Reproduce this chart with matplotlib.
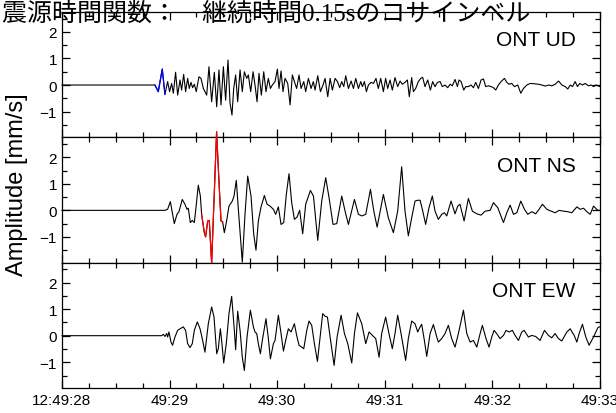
import matplotlib
matplotlib.use("Agg")
import matplotlib.pyplot as plt
import numpy as np

plt.rcParams['font.family'] = ['Liberation Sans', 'DejaVu Sans']

# time in seconds after 12:49:28, amplitude in mm/s
tick_pos = [0, 1, 2, 3, 4, 5]
tick_lab = ['12:49:28', '49:29', '49:30', '49:31', '49:32', '49:33']

ud_t = [0.0, 0.864, 0.895, 0.932, 0.957, 0.982, 1.000, 1.019, 1.035, 1.056, 1.075, 1.097, 1.112,
        1.131, 1.149, 1.168, 1.183, 1.199, 1.214, 1.230, 1.248, 1.273, 1.292, 1.314, 1.345,
        1.366, 1.391, 1.416, 1.438, 1.459, 1.478, 1.500, 1.521, 1.543, 1.562, 1.580, 1.596,
        1.614, 1.633, 1.655, 1.676, 1.695, 1.717, 1.732, 1.754, 1.776, 1.794, 1.813, 1.831,
        1.853, 1.875, 1.896, 1.918, 1.937, 1.955, 1.980, 2.002, 2.017, 2.036, 2.054, 2.073,
        2.098, 2.120, 2.141, 2.160, 2.181, 2.203, 2.222, 2.247, 2.265, 2.290, 2.315, 2.336,
        2.352, 2.377, 2.402, 2.426, 2.445, 2.470, 2.492, 2.513, 2.538, 2.560, 2.581, 2.600,
        2.619, 2.637, 2.662, 2.687, 2.709, 2.730, 2.755, 2.777, 2.792, 2.811, 2.829, 2.848,
        2.873, 2.895, 2.918, 2.940, 2.962, 2.987, 3.008, 3.027, 3.049, 3.070, 3.095, 3.120,
        3.142, 3.163, 3.188, 3.210, 3.228, 3.250, 3.266, 3.287, 3.312, 3.334, 3.352, 3.374,
        3.399, 3.424, 3.445, 3.467, 3.489, 3.514, 3.535, 3.560, 3.585, 3.607, 3.628, 3.653,
        3.675, 3.690, 3.709, 3.734, 3.752, 3.777, 3.802, 3.824, 3.845, 3.870, 3.895, 3.917,
        3.938, 3.963, 3.988, 4.010, 4.031, 4.056, 4.081, 4.112, 4.134, 4.155, 4.180, 4.205,
        4.236, 4.264, 4.289, 4.320, 4.351, 4.382, 4.429, 4.460, 4.491, 4.522, 4.553, 4.584,
        4.615, 4.646, 4.677, 4.701, 4.723, 4.745, 4.769, 4.791, 4.812, 4.837, 4.862, 4.893,
        4.918, 4.940, 4.961, 5.0]
ud_v = [0.0, 0.0, -0.25, 0.60, -0.35, 0.13, -0.25, 0.06, -0.31, 0.48, -0.38, 0.19, -0.19,
        0.40, -0.25, 0.25, -0.13, 0.10, -0.10, 0.03, -0.25, 0.31, 0.25, -0.13, -0.38,
        0.69, -0.63, 0.48, -0.82, 0.57, -0.75, 0.69, -0.57, 0.94, -0.69, -1.13, -0.13,
        0.38, -0.63, 0.57, -0.25, 0.50, 0.25, 0.38, -0.25, 0.50, 0.0, -0.63, 0.44,
        -0.38, 0.50, -0.25, 0.25, -0.13, 0.0, 0.13, 0.60, -0.13, 0.53, -0.25, 0.25,
        0.06, -0.75, 0.38, 0.13, -0.13, 0.38, -0.13, 0.13, -0.25, 0.25, -0.13, 0.13,
        -0.19, 0.35, -0.25, 0.0, 0.25, -0.44, 0.25, -0.19, 0.25, 0.13, -0.10, 0.13,
        -0.06, 0.35, -0.13, 0.15, -0.13, 0.25, -0.13, 0.13, -0.06, 0.13, -0.25, 0.0,
        0.10, 0.06, 0.25, -0.13, 0.25, -0.25, 0.25, -0.13, 0.19, -0.19, 0.28, -0.06,
        0.15, 0.03, 0.10, 0.19, -0.44, 0.28, -0.25, -0.13, 0.13, 0.25, 0.29, -0.06,
        0.19, -0.19, 0.13, -0.06, 0.10, 0.13, -0.06, 0.0, -0.10, 0.03, -0.03, 0.21,
        -0.06, 0.19, 0.13, -0.19, -0.06, -0.06, 0.0, -0.10, 0.10, -0.13, 0.19, 0.23,
        -0.06, -0.03, -0.06, -0.10, -0.19, 0.0, 0.13, 0.25, 0.10, 0.03, 0.06, -0.06,
        0.0, -0.31, -0.13, 0.0, 0.06, 0.05, 0.03, 0.0, -0.04, 0.0, -0.03, 0.03,
        0.15, 0.0, -0.06, -0.15, 0.0, -0.06, 0.13, -0.06, 0.06, 0.0, 0.06, -0.03,
        0.0, -0.06, 0.0, -0.06]

ns_t = [0.0, 0.957, 0.982, 1.007, 1.044, 1.069, 1.087, 1.118, 1.143, 1.162, 1.174, 1.193, 1.211,
        1.230, 1.242, 1.267, 1.286, 1.298, 1.323, 1.335, 1.354, 1.369, 1.391, 1.437, 1.459,
        1.478, 1.493, 1.509, 1.531, 1.552, 1.583, 1.599, 1.620, 1.645, 1.676, 1.701, 1.726,
        1.757, 1.782, 1.803, 1.825, 1.850, 1.881, 1.906, 1.934, 1.965, 1.986, 2.011, 2.036,
        2.061, 2.085, 2.110, 2.135, 2.160, 2.185, 2.209, 2.237, 2.265, 2.309, 2.337, 2.377,
        2.414, 2.451, 2.482, 2.519, 2.554, 2.600, 2.631, 2.662, 2.718, 2.755, 2.786, 2.823,
        2.867, 2.898, 2.929, 2.987, 3.033, 3.080, 3.120, 3.157, 3.188, 3.219, 3.250, 3.281,
        3.306, 3.328, 3.349, 3.380, 3.411, 3.442, 3.467, 3.498, 3.529, 3.554, 3.576, 3.616,
        3.653, 3.678, 3.699, 3.737, 3.777, 3.814, 3.855, 3.895, 3.932, 3.979, 4.010, 4.050,
        4.103, 4.134, 4.165, 4.196, 4.227, 4.264, 4.298, 4.329, 4.366, 4.403, 4.434, 4.465,
        4.506, 4.546, 4.583, 4.620, 4.661, 4.701, 4.738, 4.785, 4.816, 4.847, 4.878, 4.909,
        4.940, 4.980, 5.0]
ns_v = [0.0, 0.0, 0.04, 0.33, -0.50, -0.15, -0.05, 0.41, 0.23, 0.04, 0.08, -0.46, -0.38,
        -0.46, -0.03, 0.95, 0.54, -0.15, -0.84, -1.00, -0.40, -0.38, -1.99, 2.96, 1.10,
        -0.40, -0.43, -0.84, -0.38, 0.16, 0.35, 0.54, 1.13, -0.28, -1.95, -0.15, 1.29,
        0.54, -0.90, -1.50, -0.40, 0.13, 0.56, 0.23, 0.16, 0.04, -0.15, 0.13, -0.53,
        -0.46, 0.60, 1.38, 0.29, -0.34, -0.25, 0.0, -0.88, 0.23, 0.75, 0.54, -1.13,
        0.35, 1.23, 0.48, -0.53, -0.50, 0.54, -0.03, -0.53, 0.41, -0.15, -0.21, -0.15,
        0.79, -0.03, -0.63, 0.60, -0.28, -0.84, -0.03, 1.64, -0.03, -0.96, -0.28, 0.35,
        0.38, 0.38, 0.04, -0.53, 0.10, 0.54, -0.03, -0.34, -0.15, -0.09, -0.21, 0.35,
        -0.13, 0.16, 0.23, -0.40, 0.45, -0.03, -0.13, -0.18, -0.03, 0.0, 0.29, 0.10,
        -0.46, -0.09, 0.20, -0.15, -0.09, 0.35, 0.04, -0.15, -0.05, -0.13, 0.04, 0.23,
        0.04, -0.03, -0.09, 0.0, -0.03, -0.05, -0.09, 0.13, 0.04, 0.08, -0.05, -0.15,
        0.16, 0.0, 0.0]

ew_t = [0.0, 0.926, 0.942, 0.957, 0.973, 0.982, 0.994, 1.013, 1.028, 1.050, 1.075, 1.097, 1.128,
        1.149, 1.168, 1.190, 1.211, 1.230, 1.258, 1.283, 1.304, 1.329, 1.360, 1.391, 1.413,
        1.438, 1.453, 1.472, 1.484, 1.503, 1.527, 1.552, 1.577, 1.602, 1.614, 1.633, 1.655,
        1.676, 1.695, 1.720, 1.751, 1.779, 1.794, 1.810, 1.825, 1.844, 1.862, 1.896, 1.918,
        1.937, 1.965, 1.980, 2.011, 2.036, 2.058, 2.079, 2.104, 2.129, 2.160, 2.181, 2.203,
        2.228, 2.247, 2.275, 2.296, 2.321, 2.346, 2.374, 2.399, 2.423, 2.445, 2.467, 2.492,
        2.529, 2.557, 2.594, 2.625, 2.656, 2.693, 2.718, 2.746, 2.786, 2.823, 2.854, 2.885,
        2.916, 2.947, 2.971, 3.008, 3.039, 3.070, 3.095, 3.120, 3.151, 3.194, 3.219, 3.250,
        3.281, 3.306, 3.328, 3.343, 3.368, 3.390, 3.421, 3.452, 3.483, 3.498, 3.529, 3.560,
        3.591, 3.622, 3.653, 3.684, 3.731, 3.762, 3.793, 3.824, 3.855, 3.886, 3.907, 3.941,
        3.969, 3.994, 4.016, 4.040, 4.071, 4.103, 4.127, 4.155, 4.186, 4.211, 4.242, 4.273,
        4.295, 4.335, 4.366, 4.403, 4.443, 4.484, 4.521, 4.552, 4.583, 4.614, 4.645, 4.692,
        4.723, 4.760, 4.785, 4.806, 4.837, 4.868, 4.899, 4.940, 4.980, 5.0]
ew_v = [0.0, 0.0, 0.05, -0.03, 0.08, -0.05, 0.14, -0.24, -0.36, -0.05, 0.20, 0.26, 0.33,
        0.20, -0.30, -0.45, -0.30, 0.20, 0.52, 0.26, -0.11, -0.62, 0.45, 1.08, 0.70,
        -0.68, -0.49, 0.26, -0.18, -1.03, -0.30, 0.83, 1.48, 0.20, -0.53, 0.92, 0.20,
        -0.81, -1.31, -0.05, 0.96, 0.33, 0.14, 0.08, -0.30, -0.68, -0.18, 0.64, -0.11,
        -0.87, -0.30, -0.18, 0.77, 0.08, -0.58, -0.18, 0.26, 0.14, 0.45, 0.01, -0.36,
        -0.43, -0.49, 0.20, 0.55, 0.39, -0.30, -0.97, -0.05, 0.83, 0.73, 0.70, -0.05,
        -1.12, -0.05, 0.77, 0.08, -0.30, -1.03, 0.08, 0.86, 0.45, -0.30, 0.14, 0.01,
        -0.11, -0.81, 0.08, 0.70, 0.08, -0.49, 0.08, 0.77, 0.08, -0.93, -0.11, 0.55,
        0.45, 0.14, 0.33, 0.43, -0.18, -0.78, 0.08, 0.42, -0.05, -0.24, -0.11, 0.08,
        0.39, -0.11, -0.43, 0.08, 0.96, 0.08, -0.24, -0.18, -0.43, 0.08, 0.39, -0.11,
        -0.43, -0.05, 0.20, 0.08, -0.11, 0.01, 0.20, 0.14, 0.20, 0.01, -0.18, 0.14,
        0.20, -0.05, 0.01, -0.03, -0.18, 0.20, 0.01, -0.08, 0.08, -0.11, -0.20, 0.14,
        0.26, 0.01, -0.24, 0.08, 0.43, -0.05, -0.36, -0.05, 0.30, 0.34]

ud_src = (0.86, 0.96)    # blue: source pulse on UD
ns_src = (1.29, 1.50)    # red: source pulse on NS

names = ['ONT UD', 'ONT NS', 'ONT EW']
traces = [(ud_t, ud_v, ud_src, 'blue'), (ns_t, ns_v, ns_src, 'red'), (ew_t, ew_v, None, None)]

fig = plt.figure(figsize=(6.16, 4.14), dpi=100)
axs = fig.subplots(3, 1, sharex=True)
fig.subplots_adjust(left=0.1006, right=0.974, bottom=0.0604, top=0.9686, hspace=0)

for ax, (t, v, src, col), name in zip(axs, traces, names):
    t = np.array(t)
    v = np.array(v)
    ax.plot(t, v, color='black', lw=0.8, clip_on=False, zorder=3)
    if src is not None:
        m = (t >= src[0]) & (t <= src[1])
        ax.plot(t[m], v[m], color=col, lw=0.9, clip_on=False, zorder=4)
    ax.set_xlim(0, 5)
    ax.set_ylim(-1.97, 2.75)
    ax.set_yticks([-1, 0, 1, 2])
    ax.set_yticks([-1.5, -0.5, 0.5, 1.5, 2.5], minor=True)
    ax.set_xticks(tick_pos)
    ax.set_xticks(np.arange(0, 5.01, 0.25), minor=True)
    ax.tick_params(which='both', direction='in', top=True, right=True, labelsize=11)
    ax.tick_params(which='major', length=6, width=0.9)
    ax.tick_params(which='minor', length=3.5, width=0.9)
    for s in ax.spines.values():
        s.set_linewidth(0.9)
    ax.text(0.955, 0.735, name, transform=ax.transAxes, ha='right', va='baseline', fontsize=15)

axs[-1].set_xticklabels(tick_lab)
fig.text(0.027, 0.553, 'Amplitude [mm/s]', rotation=90, ha='center', va='center', fontsize=17)
fig.text(0.004, 0.95, '震源時間関数：　継続時間0.15sのコサインベル', fontsize=18,
         family=['Liberation Serif', 'Noto Sans CJK JP'], va='baseline', zorder=10)

fig.savefig('out.png', dpi=100)
